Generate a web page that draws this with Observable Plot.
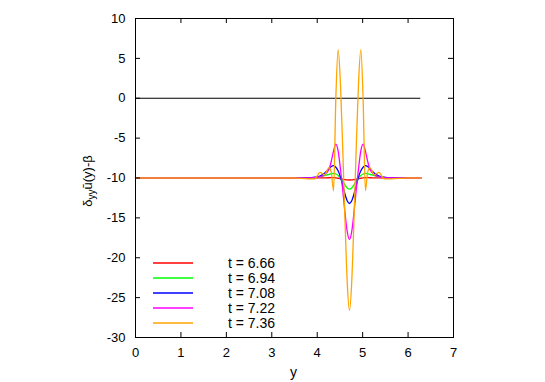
<!DOCTYPE html>
<html><head><meta charset="utf-8">
<script src="https://cdn.jsdelivr.net/npm/d3@7"></script>
<script src="https://cdn.jsdelivr.net/npm/@observablehq/plot@0.6"></script>
<style>body{margin:0;background:#fff} svg{display:block}</style>
</head><body><div id="chart"></div>
<script>
// shared sample positions (y coordinate of the profile)
const xs = [0, 1, 2, 3, 3.5, 3.8, 3.95, 4.06, 4.16, 4.26, 4.31, 4.36, 4.41, 4.46, 4.51, 4.56, 4.61, 4.66, 4.71,
            4.76, 4.81, 4.86, 4.91, 4.96, 5.01, 5.06, 5.11, 5.16, 5.26, 5.36, 5.47, 5.62, 6.0, 6.28];

const seriesNames = ["t = 6.66", "t = 6.94", "t = 7.08", "t = 7.22", "t = 7.36"];
const seriesColors = ["#ff0000", "#00ff00", "#0000ff", "#ff00ff", "#ffa500"];

const t666 = [-10,-10,-10,-10,-10,-10,-10,-9.99,-9.98,-9.97,-9.96,-9.96,-9.98,-10.03,-10.08,-10.15,-10.2,-10.24,-10.25,
              -10.24,-10.2,-10.15,-10.08,-10.03,-9.98,-9.96,-9.96,-9.97,-9.98,-9.99,-10,-10,-10,-10];
const t694 = [-10,-10,-10,-10,-10,-10,-9.95,-9.85,-9.7,-9.55,-9.45,-9.42,-9.5,-9.7,-10.0,-10.4,-10.85,-11.25,-11.4,
              -11.25,-10.85,-10.4,-10.0,-9.7,-9.5,-9.42,-9.45,-9.55,-9.7,-9.85,-9.95,-10,-10,-10];
const t708 = [-10,-10,-10,-10,-10,-9.98,-9.9,-9.75,-9.4,-8.85,-8.55,-8.45,-8.65,-9.1,-9.85,-10.9,-12.0,-12.85,-13.2,
              -12.85,-12.0,-10.9,-9.85,-9.1,-8.65,-8.45,-8.55,-8.85,-9.4,-9.75,-9.9,-9.98,-10,-10];
const t722 = [-10,-10,-10,-10,-10,-9.98,-9.95,-9.85,-9.6,-8.9,-7.9,-6.6,-5.75,-6.6,-8.8,-11.4,-14.3,-16.7,-17.7,
              -16.7,-14.3,-11.4,-8.8,-6.6,-5.75,-6.6,-7.9,-8.9,-9.6,-9.85,-9.95,-9.98,-10,-10];
const t736 = [-10,-10,-10,-10,-10,-10.1,-10.1,-9.3,-9.6,-8.7,-9.3,-11.6,0,6.1,2.0,-6,-15,-23,-26.6,
              -23,-15,-6,2.0,6.1,0,-11.6,-9.3,-8.7,-9.6,-9.3,-10.1,-10.1,-10,-10];

const xTicks = [0, 1, 2, 3, 4, 5, 6, 7];
const yTicks = [-30, -25, -20, -15, -10, -5, 0, 5, 10];
const zeroLevel = 0;

const rows = [];
[t666, t694, t708, t722, t736].forEach((vals, k) =>
  vals.forEach((v, i) => rows.push({x: xs[i], y: v, s: seriesNames[k]})));

const W = 545, H = 382, ML = 135, MR = 92, MT = 18, MB = 45, TICK = 5;
const innerW = W - ML - MR, innerH = H - MT - MB;

const plot = Plot.plot({
  width: W, height: H,
  marginLeft: ML, marginRight: MR, marginTop: MT, marginBottom: MB,
  style: {fontFamily: "'Liberation Sans', Arial, sans-serif", fontSize: "13px", color: "black", background: "white"},
  x: {domain: [0, 7]},
  y: {domain: [-30, 10]},
  color: {domain: seriesNames, range: seriesColors},
  marks: [
    Plot.ruleY([zeroLevel], {x1: xs[0], x2: xs[xs.length - 1], stroke: "black", strokeWidth: 1.2}),
    Plot.line(rows, {x: "x", y: "y", z: "s", stroke: "s", strokeWidth: 1.3, curve: "monotone-x"}),
    // inward tick marks on all four sides
    Plot.tickX(xTicks, {x: d => d, insetTop: innerH - TICK, stroke: "black"}),
    Plot.tickX(xTicks, {x: d => d, insetBottom: innerH - TICK, stroke: "black"}),
    Plot.tickY(yTicks, {y: d => d, insetRight: innerW - TICK, stroke: "black"}),
    Plot.tickY(yTicks, {y: d => d, insetLeft: innerW - TICK, stroke: "black"}),
    Plot.frame({stroke: "black"}),
    Plot.axisX(xTicks, {anchor: "bottom", tickSize: 0, tickPadding: 10, label: null, tickFormat: d => String(d)}),
    Plot.axisY(yTicks, {anchor: "left", tickSize: 0, tickPadding: 10, label: null, tickFormat: d => String(d)})
  ]
});
document.getElementById("chart").appendChild(plot);

const svg = d3.select(plot);
const font = "'Liberation Sans', Arial, sans-serif";
// legend inside the plot area
const leg = svg.append("g").attr("font-family", font).attr("font-size", 14);
seriesNames.forEach((name, k) => {
  const yy = 263 + 15 * k;
  leg.append("line").attr("x1", 153).attr("x2", 193).attr("y1", yy).attr("y2", yy)
    .attr("stroke", seriesColors[k]).attr("stroke-width", 1.3);
  leg.append("text").attr("x", 275).attr("y", yy).attr("dy", "0.36em")
    .attr("text-anchor", "end").attr("fill", "black").text(name);
});
// axis labels
svg.append("text").attr("x", 293.5).attr("y", 377).attr("text-anchor", "middle")
  .attr("font-family", font).attr("font-size", 14).attr("fill", "black").text("y");
const yl = svg.append("text").attr("transform", "translate(91.5,181) rotate(-90)")
  .attr("text-anchor", "middle").attr("font-family", font).attr("font-size", 13).attr("fill", "black");
yl.append("tspan").text("δ");
yl.append("tspan").attr("dy", 3).attr("font-size", 10).text("yy");
yl.append("tspan").attr("dy", -3).text("u\u0304(y)-β");
</script>
</body></html>
